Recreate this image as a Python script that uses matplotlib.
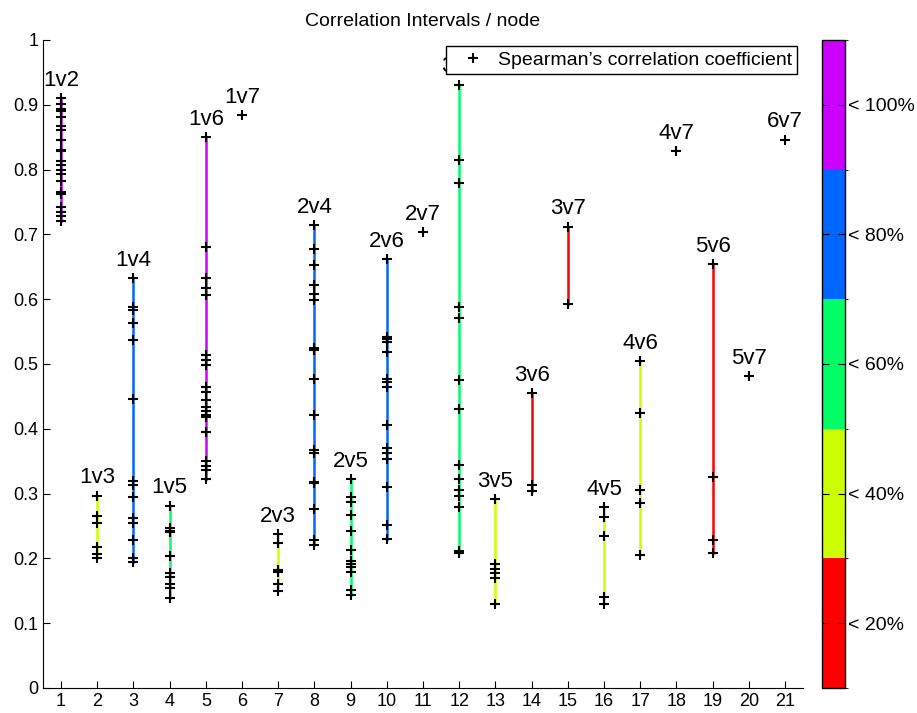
import matplotlib
matplotlib.use("Agg")
import matplotlib.pyplot as plt
from matplotlib.colors import ListedColormap, BoundaryNorm
from matplotlib.colorbar import ColorbarBase
from matplotlib.lines import Line2D

plt.rcParams['font.family'] = ['Liberation Sans', 'DejaVu Sans']

# pares de nodos
pares = ["1v2", "1v3", "1v4", "1v5", "1v6", "1v7", "2v3", "2v4", "2v5", "2v6", "2v7",
         "3v4", "3v5", "3v6", "3v7", "4v5", "4v6", "4v7", "5v6", "5v7", "6v7"]

# nivel de color de cada par (0 = <20% ... 4 = <100%), None = un solo valor
nivel = [4, 1, 3, 2, 4, None, 1, 3, 2, 3, None, 2, 1, 0, 0, 1, 1, None, 0, None, None]

# coeficientes de Spearman por par
rho = [
    [0.910, 0.902, 0.894, 0.891, 0.881, 0.867, 0.861, 0.846, 0.830, 0.828, 0.814, 0.807,
     0.800, 0.793, 0.782, 0.766, 0.763, 0.743, 0.734, 0.729, 0.721],
    [0.297, 0.266, 0.254, 0.218, 0.207, 0.200],
    [0.632, 0.588, 0.583, 0.564, 0.537, 0.446, 0.319, 0.313, 0.295, 0.262, 0.255, 0.228,
     0.200, 0.194],
    [0.281, 0.247, 0.243, 0.240, 0.203, 0.178, 0.171, 0.161, 0.154, 0.139],
    [0.850, 0.681, 0.633, 0.618, 0.606, 0.514, 0.506, 0.498, 0.465, 0.457, 0.445, 0.433,
     0.428, 0.422, 0.418, 0.395, 0.351, 0.343, 0.336, 0.323],
    [0.884],
    [0.237, 0.224, 0.182, 0.179, 0.161, 0.149],
    [0.714, 0.677, 0.652, 0.622, 0.608, 0.598, 0.524, 0.522, 0.477, 0.421, 0.368, 0.363,
     0.318, 0.317, 0.276, 0.228, 0.221],
    [0.322, 0.295, 0.287, 0.267, 0.243, 0.213, 0.196, 0.191, 0.187, 0.179, 0.151, 0.143],
    [0.662, 0.542, 0.538, 0.534, 0.518, 0.477, 0.472, 0.465, 0.406, 0.371, 0.363, 0.354,
     0.310, 0.251, 0.230],
    [0.703],
    [0.931, 0.815, 0.780, 0.588, 0.571, 0.476, 0.430, 0.344, 0.323, 0.306, 0.296, 0.280,
     0.212, 0.208],
    [0.291, 0.192, 0.184, 0.177, 0.169, 0.129],
    [0.455, 0.314, 0.304],
    [0.712, 0.592],
    [0.279, 0.264, 0.234, 0.141, 0.130],
    [0.504, 0.425, 0.305, 0.286, 0.205],
    [0.828],
    [0.654, 0.326, 0.228, 0.208],
    [0.481],
    [0.846],
]

colores = ["#ff0000", "#ccff00", "#00ff66", "#0066ff", "#cc00ff"]
etiquetas_cb = ["< 20%", "< 40%", "< 60%", "< 80%", "< 100%"]

fig = plt.figure(figsize=(9.17, 7.13), dpi=100)
ax = fig.add_axes([43 / 917, 0.0351, 760 / 917, 0.9088])

for i, vals in enumerate(rho):
    x = i + 1
    if len(vals) > 1:
        ax.plot([x, x], [min(vals), max(vals)], color=colores[nivel[i]], lw=1.8, zorder=2)
    ax.plot([x] * len(vals), vals, '+', color='k', ms=7, mew=1.5, zorder=3)
    ax.annotate(pares[i], (x, max(vals)), xytext=(0, 9), textcoords='offset points',
                ha='center', va='baseline', fontsize=16, zorder=3)

ax.set_xlim(0.5, 21.5)
ax.set_ylim(0, 1)
ax.set_xticks(range(1, 22))
ax.set_yticks([i / 10 for i in range(11)])
ax.set_yticklabels(["0"] + ["0.%d" % i for i in range(1, 10)] + ["1"])
ax.tick_params(direction='in', labelsize=13, length=5)
ax.spines['top'].set_visible(False)
ax.spines['right'].set_visible(False)
ax.set_title("Correlation Intervals / node", fontsize=14, pad=10)

h = Line2D([], [], ls='none', marker='+', color='k', ms=7, mew=1.5)
leg = ax.legend([h], ["Spearman\u2019s correlation coefficient"], loc='upper right',
                fontsize=14, fancybox=False, framealpha=1, edgecolor='k',
                borderaxespad=0.3, borderpad=0.28, handletextpad=0.15, handlelength=2.2)
leg.get_frame().set_linewidth(1.0)
leg.set_zorder(10)

# barra de colores
cax = fig.add_axes([822 / 917, 0.0351, 23 / 917, 0.9088])
cmap = ListedColormap(colores)
norm = BoundaryNorm(range(6), cmap.N)
cb = ColorbarBase(cax, cmap=cmap, norm=norm, ticks=[0.5, 1.5, 2.5, 3.5, 4.5])
cb.set_ticklabels(etiquetas_cb)
cax.tick_params(direction='in', left=True, right=True, length=5, labelsize=14, pad=2)
cb.outline.set_linewidth(1.0)

plt.savefig("out.png", dpi=100)
